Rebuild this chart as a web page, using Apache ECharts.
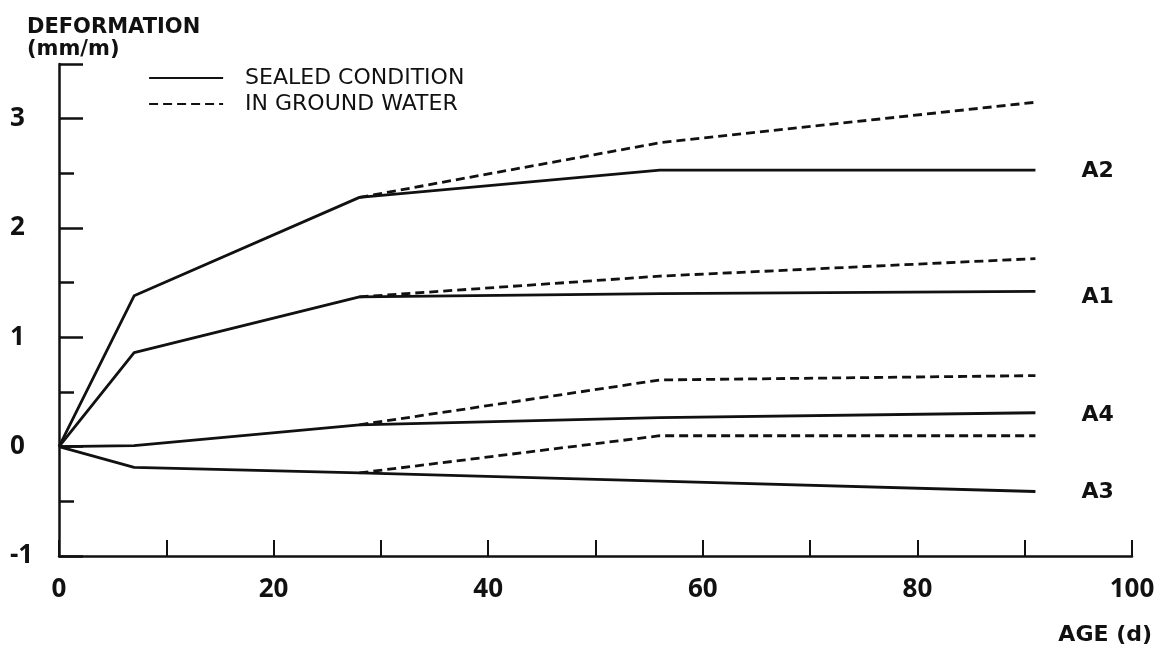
<!DOCTYPE html>
<html>
<head>
<meta charset="utf-8">
<script src="https://cdn.jsdelivr.net/npm/echarts@6/dist/echarts.min.js"></script>
<style>
  html, body { margin: 0; padding: 0; background: #fff; }
  #chart { width: 1160px; height: 646px; }
</style>
</head>
<body>
<div id="chart"></div>
<script>
// ---- data ----
var ages = [0, 7, 28, 56, 91];            // days, sealed condition
var agesWater = [28, 56, 91];             // days, in ground water (diverges after 28 d)
var seriesLabels = ['A2', 'A1', 'A4', 'A3'];
var sealedA2 = [0, 1.38, 2.28, 2.53, 2.53];
var sealedA1 = [0, 0.86, 1.37, 1.40, 1.42];
var sealedA4 = [0, 0.01, 0.20, 0.265, 0.31];
var sealedA3 = [0, -0.19, -0.24, -0.315, -0.41];
var waterA2 = [2.28, 2.78, 3.15];
var waterA1 = [1.37, 1.56, 1.72];
var waterA4 = [0.20, 0.61, 0.65];
var waterA3 = [-0.24, 0.10, 0.10];
var xTickLabels = [0, 20, 40, 60, 80, 100];
var yTickLabels = [-1, 0, 1, 2, 3];
var legendNames = ['SEALED CONDITION', 'IN GROUND WATER'];

var FONT = '"DejaVu Sans", "Noto Sans", sans-serif';
var NUMFONT = '"Open Sans", "Noto Sans", sans-serif';
var INK = '#111';

function pairs(xs, ys) { return xs.map(function (x, i) { return [x, ys[i]]; }); }

var sealedSets = [sealedA2, sealedA1, sealedA4, sealedA3];
var waterSets = [waterA2, waterA1, waterA4, waterA3];
var labelOffsets = [[0, 1], [0, 6], [0, 3], [0, 1]];

var series = [];
sealedSets.forEach(function (vals, i) {
  series.push({
    type: 'line', name: legendNames[0], symbol: 'none', showSymbol: false, symbolSize: 0, silent: true,
    data: pairs(ages, vals),
    lineStyle: { color: INK, width: 2.8, type: 'solid' },
    itemStyle: { color: INK, opacity: 0 },
    endLabel: {
      show: true, formatter: seriesLabels[i], distance: 46, offset: labelOffsets[i],
      color: INK, fontFamily: FONT, fontWeight: 'bold', fontSize: 22
    },
    z: 3
  });
});
waterSets.forEach(function (vals) {
  series.push({
    type: 'line', name: legendNames[1], symbol: 'none', showSymbol: false, symbolSize: 0, silent: true,
    data: pairs(agesWater, vals),
    lineStyle: { color: INK, width: 2.8, type: [9, 5] },
    itemStyle: { color: INK, opacity: 0 },
    z: 2
  });
});

var chart = echarts.init(document.getElementById('chart'), null, { renderer: 'canvas' });
chart.setOption({
  backgroundColor: '#fff',
  animation: false,
  title: {
    text: 'DEFORMATION\n(mm/m)', left: 22, top: 12,
    textStyle: { fontFamily: FONT, fontWeight: 'bold', fontSize: 21, lineHeight: 22, color: INK }
  },
  legend: {
    data: legendNames, orient: 'vertical', left: 148, top: 67, padding: 0,
    itemWidth: 74, itemHeight: 20, itemGap: 4,
    itemStyle: { opacity: 0, borderWidth: 0 },
    lineStyle: { width: 2.2 },
    textStyle: { fontFamily: FONT, fontSize: 22, color: INK, padding: [0, 0, 0, 17] },
    selectedMode: false
  },
  grid: { left: 59, right: 28, top: 64, bottom: 90 },
  xAxis: {
    type: 'value', min: 0, max: 100, interval: 10,
    name: 'AGE (d)', nameLocation: 'end', nameGap: 20,
    nameTextStyle: { fontFamily: FONT, fontWeight: 'bold', fontSize: 22, color: INK,
      align: 'right', verticalAlign: 'top', padding: [68, 0, 0, 0] },
    axisLine: { onZero: false, lineStyle: { color: INK, width: 2.5 } },
    axisTick: { inside: true, length: 16, lineStyle: { color: INK, width: 2 } },
    axisLabel: {
      margin: 21, color: INK, fontFamily: NUMFONT, fontWeight: 'bold', fontSize: 26,
      formatter: function (v) { return xTickLabels.indexOf(v) >= 0 ? String(v) : ''; }
    },
    splitLine: { show: false }
  },
  yAxis: {
    type: 'value', min: -1, max: 3.5, interval: 1,
    axisLine: { show: true, onZero: false, lineStyle: { color: INK, width: 2.5 } },
    axisTick: { show: true, inside: true, length: 24, lineStyle: { color: INK, width: 2.5 } },
    minorTick: { show: true, splitNumber: 2, length: 15, lineStyle: { color: INK, width: 2.5 } },
    axisLabel: {
      margin: 49, align: 'left', color: INK, fontFamily: NUMFONT, fontWeight: 'bold', fontSize: 26,
      formatter: function (v) { return yTickLabels.indexOf(v) >= 0 ? String(v) : ''; }
    },
    splitLine: { show: false }
  },
  series: series
});
</script>
</body>
</html>
